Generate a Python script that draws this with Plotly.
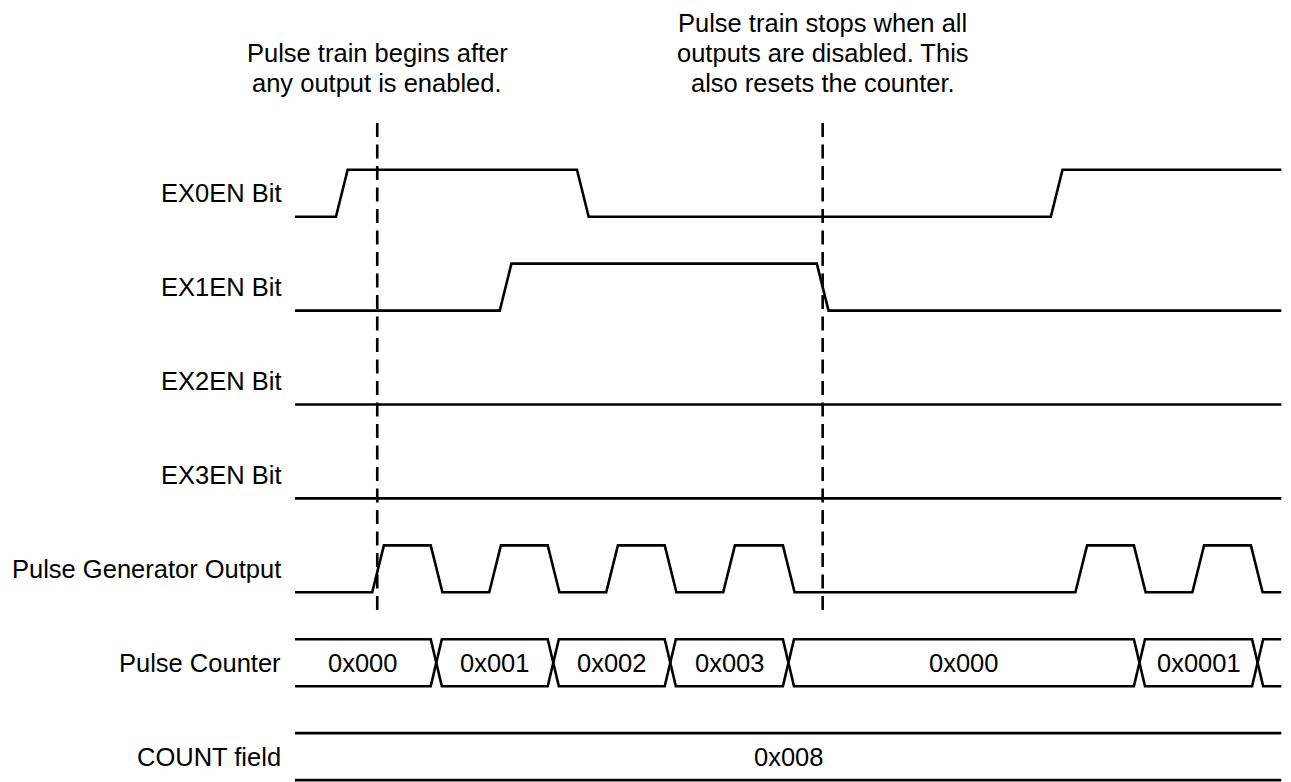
import plotly.graph_objects as go

# Time axis in arbitrary units (one pulse period = 10 units)
T_START = 0.0
T_END = 84.3
EDGE = 1.0

signal_names = ["EX0EN Bit", "EX1EN Bit", "EX2EN Bit", "EX3EN Bit",
                "Pulse Generator Output", "Pulse Counter", "COUNT field"]

# start times of each level transition (signals start low)
ex0_toggles = [3.5, 24.1, 64.6]
ex1_toggles = [17.5, 44.6]
ex2_toggles = []
ex3_toggles = []
pulse_toggles = [6.6, 11.6, 16.6, 21.6, 26.6, 31.6, 36.6, 41.7,
                 66.7, 71.7, 76.7, 81.7]

# pulse counter bus: value changes and the values shown
counter_changes = [11.6, 21.6, 31.6, 41.7, 71.7, 81.8]
counter_values = ["0x000", "0x001", "0x002", "0x003", "0x000", "0x0001", ""]
count_field_value = "0x008"

# dashed markers and notes above them
marker_times = [7.03, 45.1]
note_lines = [
    ["Pulse train begins after", "any output is enabled."],
    ["Pulse train stops when all", "outputs are disabled. This", "also resets the counter."],
]

# ---- layout constants (px mapping) ----
W, H = 1291, 782
PAGE_OFF = 8          # default body margin of the html page
PX_PER_T = 11.7
X0_PX = 295
ROW_PX = 93.9
ROW0_PX = 216.7
HIGH = 0.5
LW = 2.6
FONT = "Liberation Sans, Arial, sans-serif"
FS = 25.5


def py(px):
    return (ROW0_PX - px) / ROW_PX


def waveform(toggles):
    level = 0
    xs, ys = [T_START], [level]
    for t in toggles:
        xs += [t, t + EDGE]
        ys += [level, 1 - level]
        level = 1 - level
    xs.append(T_END)
    ys.append(level)
    return xs, ys


fig = go.Figure()

digital = [ex0_toggles, ex1_toggles, ex2_toggles, ex3_toggles, pulse_toggles]
for k, tog in enumerate(digital):
    xs, ys = waveform(tog)
    fig.add_trace(go.Scatter(x=xs, y=[-k + HIGH * v for v in ys], mode="lines",
                             line=dict(color="black", width=LW), hoverinfo="skip",
                             showlegend=False))

# bus drawn as two crossing polylines
k = 5
top, bot = -k + HIGH, -k
for first in (top, bot):
    xs, ys = [T_START], [first]
    lvl = first
    for c in counter_changes:
        other = bot if lvl == top else top
        xs += [c, c + EDGE * 0.95]
        ys += [lvl, other]
        lvl = other
    xs.append(T_END)
    ys.append(lvl)
    fig.add_trace(go.Scatter(x=xs, y=ys, mode="lines", line=dict(color="black", width=LW),
                             hoverinfo="skip", showlegend=False))

bounds = [T_START] + counter_changes + [T_END]
for i, val in enumerate(counter_values):
    if not val:
        continue
    a = bounds[i] + (EDGE * 0.95 if i > 0 else 0)
    b = bounds[i + 1]
    fig.add_annotation(x=(a + b) / 2, y=-k + HIGH / 2, text=val, showarrow=False,
                       font=dict(size=FS, color="black", family=FONT))

# COUNT field (constant)
k = 6
for lvl in (-k + HIGH, -k):
    fig.add_trace(go.Scatter(x=[T_START, T_END], y=[lvl, lvl], mode="lines",
                             line=dict(color="black", width=LW), hoverinfo="skip",
                             showlegend=False))
fig.add_annotation(x=(T_START + T_END) / 2, y=-k + HIGH / 2, text=count_field_value,
                   showarrow=False, font=dict(size=FS, color="black", family=FONT))

# signal names
for k, name in enumerate(signal_names):
    fig.add_annotation(x=-1.0, y=-k + HIGH / 2, text=name, showarrow=False,
                       xanchor="right", font=dict(size=FS, color="black", family=FONT))

# dashed markers
for t in marker_times:
    fig.add_shape(type="line", x0=t, x1=t, y0=py(123), y1=py(610), xref="x", yref="y",
                  line=dict(color="black", width=LW, dash="14px,7.5px"), layer="above")

# notes: last line baseline aligned, 30.3px spacing
for t, lines in zip(marker_times, note_lines):
    n = len(lines)
    for j, line in enumerate(lines):
        cy = 83.3 - (n - 1 - j) * 30.3
        fig.add_annotation(x=t, y=py(cy), text=line, showarrow=False, xanchor="center",
                           yanchor="middle", font=dict(size=FS, color="black", family=FONT))

fig.update_layout(
    width=W - PAGE_OFF, height=H - PAGE_OFF,
    margin=dict(l=0, r=0, t=0, b=0),
    paper_bgcolor="white", plot_bgcolor="white",
    xaxis=dict(range=[(PAGE_OFF - X0_PX) / PX_PER_T, (W - X0_PX) / PX_PER_T], visible=False,
               fixedrange=True),
    yaxis=dict(range=[py(H), py(PAGE_OFF)], visible=False, fixedrange=True),
    showlegend=False,
)

fig.write_html("out.html")
